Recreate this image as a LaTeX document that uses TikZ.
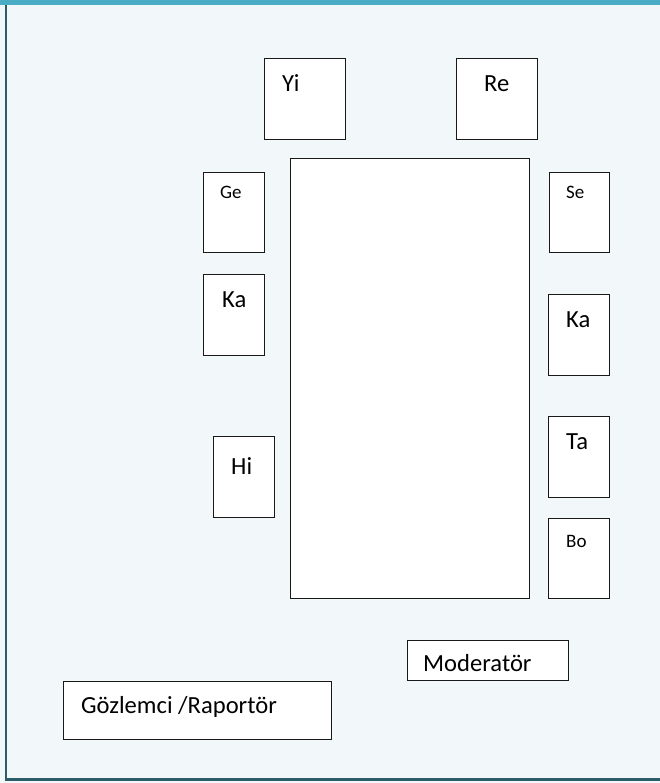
\documentclass[tikz,border=0pt]{standalone}
\usepackage{fontspec}
\setmainfont{Carlito}
\definecolor{pagebg}{HTML}{F2F7FA}
\definecolor{topbar}{HTML}{4BACC6}
\definecolor{frameline}{HTML}{2E5D6A}
\begin{document}
\begin{tikzpicture}[x=1pt,y=-1pt,
  seat/.style={draw=black!90, line width=1.3pt, fill=white, anchor=north west,
    inner sep=0pt, minimum width=61pt, minimum height=81pt},
  big/.style={font=\fontsize{24.6}{28}\selectfont, anchor=base west, inner sep=0pt},
  small/.style={font=\fontsize{19}{22}\selectfont, anchor=base west, inner sep=0pt}]
\useasboundingbox (0,0) rectangle (660,783);
% page background and frame
\fill[pagebg] (0,0) rectangle (660,783);
\fill[topbar] (0,0) rectangle (660,5);
\fill[frameline] (5,5) rectangle (7,781);
\fill[frameline] (5,778) rectangle (660,781);

% conference table
\node[seat, minimum width=239pt, minimum height=440pt] (table) at (290,158) {};

% seats along the top
\node[seat, minimum width=81pt] (yi) at (264,58) {};
\node[seat, minimum width=81pt] (re) at (456,58) {};
% seats on the left
\node[seat, minimum height=80pt] (ge) at (203,172) {};
\node[seat] (kaL) at (203,274) {};
\node[seat] (hi) at (213,436) {};
% seats on the right
\node[seat, minimum width=60pt, minimum height=80pt] (se) at (549,172) {};
\node[seat] (kaR) at (548,294) {};
\node[seat] (ta) at (548,416) {};
\node[seat, minimum height=80pt] (bo) at (548,518) {};
% moderator and observer
\node[seat, minimum width=161pt, minimum height=40pt] (mod) at (407,640) {};
\node[seat, minimum width=268pt, minimum height=58pt] (obs) at (63,681) {};

% names
\node[big] (tyi) at (282,91.5) {Yi};
\node[big] (tre) at (484,91.5) {Re};
\node[small] (tge) at (220,199) {Ge};
\node[small] (tse) at (566,199) {Se};
\node[big] (tkaL) at (222,307) {Ka};
\node[big] (tkaR) at (566,327) {Ka};
\node[big] (thi) at (231,474) {Hi};
\node[big] (tta) at (566,449) {Ta};
\node[small] (tbo) at (566,547) {Bo};
\node[big] (tmod) at (423,671.5) {Moderatör};
\node[big] (tobs) at (81,713) {Gözlemci /Raportör};
\end{tikzpicture}
\end{document}
